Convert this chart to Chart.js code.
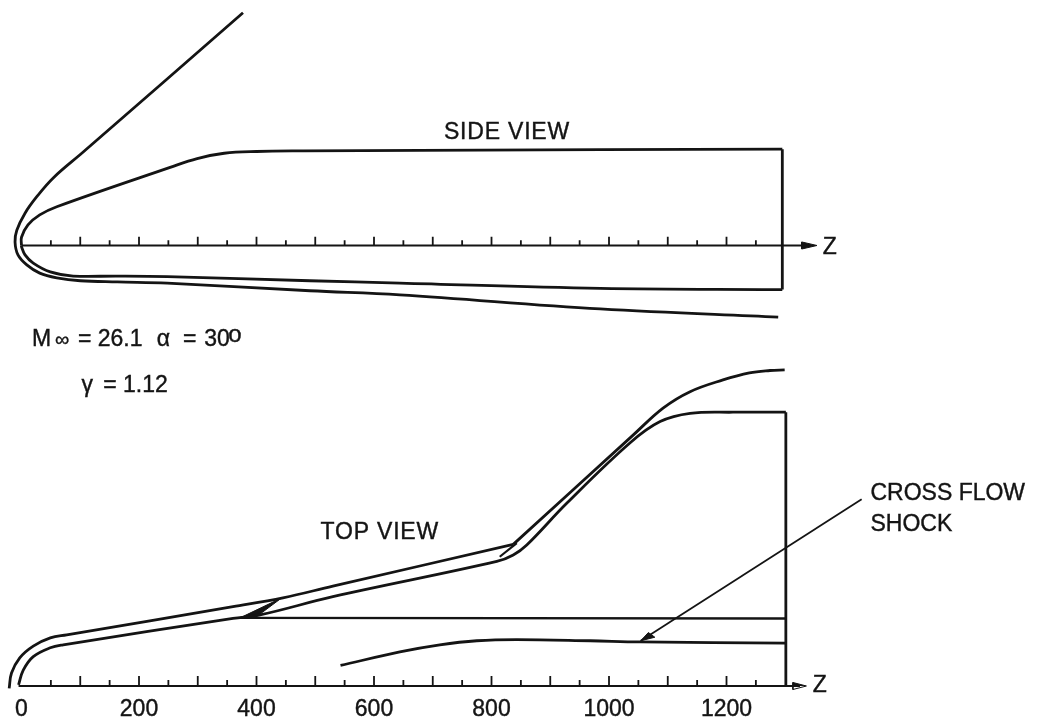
<!DOCTYPE html>
<html>
<head>
<meta charset="utf-8">
<style>
  html, body { margin: 0; padding: 0; background: #fff; }
  canvas { display: block; }
</style>
<script src="https://cdn.jsdelivr.net/npm/chart.js@4"></script>
</head>
<body>
<canvas id="chart" width="1041" height="725"></canvas>
<script>
// values, [z, y] in body units
const zTickLabels = [0, 200, 400, 600, 800, 1000, 1200];
const minorTicks = [50, 150, 250, 350, 450, 550, 650, 750, 850, 950, 1050, 1150, 1250];
const majorTicks = [100, 200, 300, 400, 500, 600, 700, 800, 900, 1000, 1100, 1200];

const sideShock = [[377, 396], [105, 159], [54, 115], [26, 83], [6, 55], [-8, 26], [-11, 6],
  [-6, -16], [9, -33], [31, -47], [60, -55], [100, -60], [163, -62], [248, -64], [491, -77], [644, -84], [985, -108], [1288, -122]];
const sideBodyUpper = [[0, 0], [0, 14], [11, 35], [31, 52], [60, 66], [253, 133], [299, 148], [345, 157], [400, 160], [480, 161], [678, 162], [1295, 164]];
const sideBodyLower = [[1295, -75], [985, -73], [644, -64], [491, -60], [248, -53], [163, -52], [88, -52], [49, -45], [20, -30], [6, -16], [0, -2], [0, 0]];
const sideBase = [[1295, 164], [1295, -75]];
const sideAxis = [[0, 0], [1340, 0]];
const sideArrow = [[1354, 0], [1328, 6], [1328, -6], [1354, 0]];

const topShockLower = [[-21, -4], [-17, 22], [-3, 48], [20, 68], [49, 82], [77, 87], [360, 135], [445, 150], [530, 170], [837, 241]];
const topShockUpper = [[837, 241], [1041, 427], [1092, 473], [1138, 501], [1194, 521], [1239, 533], [1274, 537], [1299, 538]];
const topBarb = [[814, 220], [843, 243]];
const topBody = [[-5, 2], [3, 27], [20, 50], [49, 65], [71, 70], [360, 115], [406, 121], [530, 152], [809, 212], [837, 223], [860, 240],
  [928, 311], [1036, 414], [1087, 450], [1138, 464], [1211, 466], [1301, 466]];
const topBase = [[1301, 466], [1301, 0]];
const topSlipLine = [[372, 116], [1300, 115]];
const topWedge = [[372, 116], [443, 150], [404, 121], [372, 116]];
const crossFlowShock = [[543, 35], [644, 58], [712, 70], [775, 77], [843, 79], [968, 77], [1053, 75], [1301, 73]];
const leader = [[1430, 318], [1054, 77]];
const leaderArrow = [[1054, 77], [1078, 83], [1067, 91], [1054, 77]];
const topAxis = [[-5, 0], [1325, 0]];
const topArrow = [[1336, 0], [1313, 6], [1313, -6], [1336, 0]];

const notes = [
  { text: 'SIDE VIEW', z: 719, y: 181, axis: 'ySide', spacing: '0.8px' },
  { text: 'Z', z: 1364, y: -15, axis: 'ySide' },
  { text: 'M', z: 18, y: -171, axis: 'ySide' },
  { text: '∞', z: 57, y: -171, axis: 'ySide', size: 20 },
  { text: '= 26.1', z: 96, y: -171, axis: 'ySide' },
  { text: 'α', z: 230, y: -171, axis: 'ySide' },
  { text: '=', z: 275, y: -171, axis: 'ySide' },
  { text: '30', z: 311, y: -171, axis: 'ySide' },
  { text: 'o', z: 352, y: -165, axis: 'ySide', size: 24 },
  { text: 'γ', z: 102, y: -249, axis: 'ySide' },
  { text: '= 1.12', z: 139, y: -249, axis: 'ySide' },
  { text: 'TOP VIEW', z: 509, y: 251, axis: 'yTop', spacing: '0.8px' },
  { text: 'Z', z: 1347, y: -11, axis: 'yTop' },
  { text: 'CROSS FLOW', z: 1445, y: 317, axis: 'yTop' },
  { text: 'SHOCK', z: 1445, y: 264, axis: 'yTop' },
];

const ink = '#141414';
const fontFamily = '"Liberation Sans", Arial, sans-serif';

const toPoints = (pairs) => pairs.map(([x, y]) => ({ x, y }));

// ticks stand up from the axis, one broken line per view
const tickPoints = (minorHeight, majorHeight) =>
  [...minorTicks.map((z) => [z, minorHeight]), ...majorTicks.map((z) => [z, majorHeight])]
    .sort((a, b) => a[0] - b[0])
    .flatMap(([z, h]) => [{ x: z, y: 0 }, { x: z, y: h }, { x: z, y: null }]);

const line = (pairs, yAxisID, borderWidth = 2.8, tension = 0.38) => ({
  data: toPoints(pairs),
  yAxisID,
  borderColor: ink,
  borderWidth,
  tension,
  pointRadius: 0,
  fill: false,
  clip: false,
});

const head = (pairs, yAxisID) => ({
  ...line(pairs, yAxisID, 1, 0),
  backgroundColor: ink,
  fill: 'shape',
});

const ticks = (minorHeight, majorHeight, yAxisID) => ({
  ...line([], yAxisID, 1.8, 0),
  data: tickPoints(minorHeight, majorHeight),
  spanGaps: false,
});

const notesPlugin = {
  id: 'notes',
  afterDraw(chart) {
    const { ctx, scales } = chart;
    ctx.save();
    ctx.fillStyle = ink;
    ctx.strokeStyle = ink;
    ctx.lineWidth = 0.4;
    ctx.textBaseline = 'alphabetic';
    notes.forEach((note) => {
      ctx.font = `${note.size || 23}px ${fontFamily}`;
      ctx.letterSpacing = note.spacing || '0px';
      const px = scales.x.getPixelForValue(note.z);
      const py = scales[note.axis].getPixelForValue(note.y);
      ctx.fillText(note.text, px, py);
      ctx.strokeText(note.text, px, py);
    });
    ctx.restore();
  },
};

new Chart(document.getElementById('chart'), {
  type: 'line',
  data: {
    datasets: [
      line(sideShock, 'ySide'),
      line(sideBodyUpper, 'ySide'),
      line(sideBodyLower, 'ySide'),
      line(sideBase, 'ySide', 2.8, 0),
      line(sideAxis, 'ySide', 1.8, 0),
      head(sideArrow, 'ySide'),
      ticks(9, 15, 'ySide'),
      line(topShockLower, 'yTop'),
      line(topShockUpper, 'yTop'),
      line(topBarb, 'yTop', 2.2, 0),
      line(topBody, 'yTop'),
      line(topBase, 'yTop', 2.8, 0),
      line(topSlipLine, 'yTop', 2.4, 0),
      head(topWedge, 'yTop'),
      line(crossFlowShock, 'yTop'),
      line(leader, 'yTop', 1.8, 0),
      head(leaderArrow, 'yTop'),
      line(topAxis, 'yTop', 1.8, 0),
      head(topArrow, 'yTop'),
      ticks(10, 17, 'yTop'),
    ],
  },
  options: {
    responsive: false,
    animation: false,
    parsing: false,
    normalized: false,
    layout: { padding: 0 },
    plugins: { legend: { display: false }, tooltip: { enabled: false } },
    scales: {
      x: {
        type: 'linear',
        position: 'bottom',
        min: -36.6,
        max: 1735.3,
        grid: { display: false, drawTicks: false },
        border: { display: false },
        afterFit: (scale) => {
          scale.height = 39;
        },
        afterBuildTicks: (scale) => {
          scale.ticks = zTickLabels.map((value) => ({ value }));
        },
        ticks: {
          autoSkip: false,
          maxRotation: 0,
          padding: 10,
          color: ink,
          textStrokeColor: ink,
          textStrokeWidth: 0.4,
          font: { family: fontFamily, size: 23 },
          callback: (value) => String(value),
        },
      },
      ySide: { type: 'linear', axis: 'y', display: false, min: -749.7, max: 417.8 },
      yTop: { type: 'linear', axis: 'y', display: false, min: 0, max: 1167.6 },
    },
  },
  plugins: [notesPlugin],
});
</script>
</body>
</html>
